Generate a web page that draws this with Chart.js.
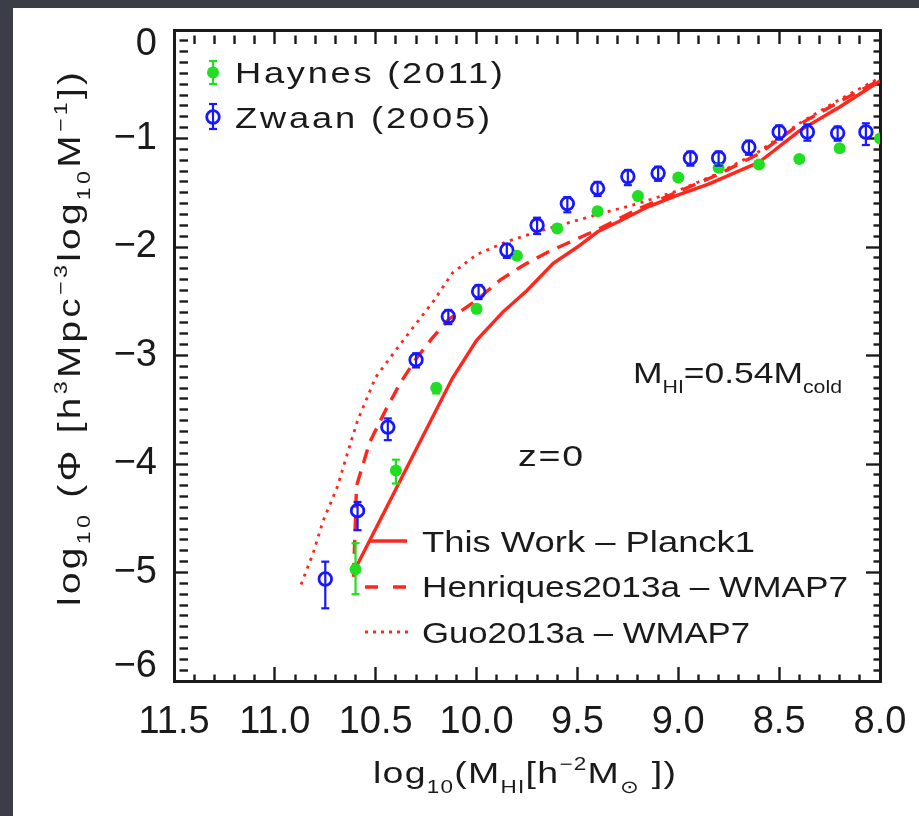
<!DOCTYPE html>
<html>
<head>
<meta charset="utf-8">
<script src="https://cdn.jsdelivr.net/npm/chart.js@4.4.1/dist/chart.umd.min.js"></script>
<style>
html,body{margin:0;padding:0;width:919px;height:816px;overflow:hidden;background:#3b3e47;}
#panel{position:absolute;left:13px;top:8px;width:906px;height:808px;background:#ffffff;}
#c{position:absolute;left:0;top:0;filter:blur(0.4px);}
</style>
</head>
<body>
<div id="panel"></div>
<canvas id="c" width="919" height="816"></canvas>
<script>
// ---------------- data ----------------
const haynesX    = [10.6, 10.4, 10.2, 10.0, 9.8, 9.6, 9.4, 9.2, 9.0, 8.8, 8.6, 8.4, 8.2, 8.0];
const haynesY    = [-4.97, -4.06, -3.30, -2.57, -2.08, -1.83, -1.67, -1.53, -1.36, -1.27, -1.24, -1.19, -1.09, -1.00];
const haynesErrHi = [0.24, 0.10, 0.04, 0.03, 0.03, 0.03, 0.03, 0.03, 0.03, 0.03, 0.03, 0.03, 0.03, 0.03];
const haynesErrLo = [0.23, 0.12, 0.05, 0.04, 0.03, 0.03, 0.03, 0.03, 0.03, 0.03, 0.03, 0.03, 0.03, 0.03];

const zwaanX     = [10.75, 10.59, 10.44, 10.30, 10.14, 9.99, 9.85, 9.70, 9.55, 9.40, 9.25, 9.10, 8.94, 8.80, 8.65, 8.50, 8.36, 8.21, 8.07];
const zwaanY     = [-5.06, -4.43, -3.66, -3.04, -2.64, -2.41, -2.03, -1.80, -1.60, -1.46, -1.35, -1.32, -1.18, -1.18, -1.08, -0.94, -0.94, -0.95, -0.94];
const zwaanErrHi = [0.16, 0.08, 0.08, 0.06, 0.06, 0.06, 0.06, 0.07, 0.06, 0.06, 0.06, 0.06, 0.06, 0.06, 0.06, 0.06, 0.07, 0.06, 0.08];
const zwaanErrLo = [0.27, 0.18, 0.12, 0.07, 0.07, 0.07, 0.07, 0.08, 0.08, 0.07, 0.08, 0.07, 0.07, 0.07, 0.07, 0.07, 0.08, 0.07, 0.12];

const thisWorkX  = [10.6, 10.12, 10.0, 9.87, 9.75, 9.62, 9.5, 9.4, 9.3, 9.15, 9.0, 8.85, 8.75, 8.6, 8.4, 8.2, 8.0];
const thisWorkY  = [-4.96, -3.21, -2.86, -2.60, -2.40, -2.15, -2.00, -1.86, -1.77, -1.63, -1.52, -1.42, -1.34, -1.22, -0.93, -0.71, -0.47];

const henriquesX = [10.61, 10.595, 10.53, 10.45, 10.38, 10.30, 10.22, 10.14, 10.0, 9.88, 9.77, 9.65, 9.52, 9.40, 9.20, 9.00, 8.80, 8.60, 8.40, 8.20, 8.00];
const henriquesY = [-5.04, -4.20, -3.80, -3.50, -3.26, -3.03, -2.84, -2.67, -2.49, -2.30, -2.17, -2.05, -1.94, -1.84, -1.65, -1.49, -1.33, -1.14, -0.87, -0.66, -0.46];

const guoX       = [10.87, 10.81, 10.76, 10.69, 10.64, 10.59, 10.50, 10.40, 10.31, 10.21, 10.12, 10.00, 9.85, 9.70, 9.55, 9.40, 9.20, 9.00, 8.80, 8.60, 8.40, 8.20, 8.00];
const guoY       = [-5.11, -4.82, -4.52, -4.21, -3.90, -3.60, -3.20, -2.95, -2.73, -2.49, -2.24, -2.07, -1.95, -1.86, -1.78, -1.70, -1.60, -1.48, -1.32, -1.12, -0.86, -0.64, -0.44];

const xTickValues = [8.0, 8.5, 9.0, 9.5, 10.0, 10.5, 11.0, 11.5];
const yTickValues = [-6, -5, -4, -3, -2, -1, 0];
const xMinorStep = 0.1, yMinorStep = 0.1;

const legendObs   = ['Haynes (2011)', 'Zwaan (2005)'];
const legendModel = ['This Work – Planck1', 'Henriques2013a – WMAP7', 'Guo2013a – WMAP7'];

// ---------------- style ----------------
const FAM   = '"Liberation Sans", Arial, "DejaVu Sans", sans-serif';
const INK   = '#1a1a1a';
const RED   = 'rgb(255,38,28)';
const GREEN = 'rgb(34,222,34)';
const BLUE  = 'rgb(24,24,255)';

const zip = (xs, ys) => xs.map((x, i) => ({x: x, y: ys[i]}));
const near = (list, v) => list.find(t => Math.abs(t - v) < 1e-6);

function setFont(ctx, size) { ctx.font = size + 'px ' + FAM; }

// draw [text, kind] segments (kind 0 normal, 1 sub, 2 sup); the run is widened
// (horizontal stretch, then letter spacing) so that it spans `target` px
function drawRich(ctx, segs, x0, y0, size, target, maxStretch) {
  const small = size * 0.6;
  maxStretch = maxStretch || 1.25;
  ctx.save();
  ctx.letterSpacing = '0px';
  ctx.textAlign = 'left';
  ctx.textBaseline = 'alphabetic';
  const widths = [];
  let nat = 0, n = 0;
  for (const [t, k] of segs) {
    setFont(ctx, k ? small : size);
    const w = ctx.measureText(t).width;
    widths.push(w); nat += w; n += [...t].length;
  }
  const sx = Math.max(0.8, Math.min(maxStretch, target / nat));
  const rest = target - nat * sx;
  const lsScreen = Math.max(0, rest / Math.max(1, n - 1));
  const ls = lsScreen / sx;
  ctx.translate(x0, y0);
  ctx.scale(sx, 1);
  ctx.letterSpacing = ls.toFixed(2) + 'px';
  let x = 0;
  segs.forEach(([t, k], i) => {
    setFont(ctx, k ? small : size);
    const dy = k === 1 ? size * 0.32 : (k === 2 ? -size * 0.42 : 0);
    ctx.fillText(t, x, dy);
    x += widths[i] + ls * [...t].length;
  });
  ctx.restore();
}

function errBar(ctx, x, yTop, yBot, cap, color, lw) {
  ctx.fillStyle = color;
  ctx.fillRect(x - lw / 2, yTop, lw, yBot - yTop);
  ctx.fillRect(x - cap, yTop - lw / 2, 2 * cap, lw);
  ctx.fillRect(x - cap, yBot - lw / 2, 2 * cap, lw);
}

// error bars through the library's scales
const errorBarPlugin = {
  id: 'errbars',
  afterDatasetsDraw(chart) {
    const ctx = chart.ctx, ys = chart.scales.y, a = chart.chartArea;
    ctx.save();
    ctx.beginPath(); ctx.rect(a.left, a.top, a.right - a.left, a.bottom - a.top); ctx.clip();
    const sets = [
      {idx: 3, vals: haynesY, hi: haynesErrHi, lo: haynesErrLo, color: GREEN},
      {idx: 4, vals: zwaanY, hi: zwaanErrHi, lo: zwaanErrLo, color: BLUE}
    ];
    for (const s of sets) {
      const meta = chart.getDatasetMeta(s.idx);
      meta.data.forEach((pt, i) => {
        const yt = ys.getPixelForValue(s.vals[i] + s.hi[i]);
        const yb = ys.getPixelForValue(s.vals[i] - s.lo[i]);
        errBar(ctx, pt.x, yt, yb, 4, s.color, 2.2);
      });
    }
    ctx.restore();
  }
};

// legends, annotations and axis titles
const textPlugin = {
  id: 'texts',
  afterDraw(chart) {
    const ctx = chart.ctx;
    ctx.save();

    // observational legend (top left)
    errBar(ctx, 213, 61, 84, 4, GREEN, 2.2);
    ctx.fillStyle = GREEN; ctx.beginPath(); ctx.arc(213, 72.5, 6, 0, Math.PI * 2); ctx.fill();
    errBar(ctx, 213, 104, 129, 4, BLUE, 2.2);
    ctx.strokeStyle = BLUE; ctx.lineWidth = 2.8; ctx.beginPath(); ctx.arc(213, 117, 6.3, 0, Math.PI * 2); ctx.stroke();
    ctx.fillStyle = INK;
    drawRich(ctx, [[legendObs[0], 0]], 235, 83, 29, 268);
    drawRich(ctx, [[legendObs[1], 0]], 235, 128, 29, 255);

    // model legend
    ctx.strokeStyle = RED; ctx.lineWidth = 3.6;
    ctx.setLineDash([]); ctx.beginPath(); ctx.moveTo(369, 541); ctx.lineTo(407, 541); ctx.stroke();
    ctx.setLineDash([13, 15]); ctx.beginPath(); ctx.moveTo(365, 587); ctx.lineTo(407, 587); ctx.stroke();
    ctx.lineWidth = 3; ctx.setLineDash([3, 5]); ctx.beginPath(); ctx.moveTo(365, 632); ctx.lineTo(408, 632); ctx.stroke();
    ctx.setLineDash([]);
    ctx.fillStyle = INK;
    drawRich(ctx, [[legendModel[0], 0]], 422, 552, 30, 333);
    drawRich(ctx, [[legendModel[1], 0]], 422, 597, 30, 426);
    drawRich(ctx, [[legendModel[2], 0]], 422, 643, 30, 328);

    // annotations
    drawRich(ctx, [['M', 0], ['HI', 1], ['=0.54M', 0], ['cold', 1]], 633, 383, 30, 209);
    drawRich(ctx, [['z=0', 0]], 518, 466, 30, 65);

    // x axis title
    drawRich(ctx, [['log', 0], ['10', 1], ['(M', 0], ['HI', 1], ['[h', 0], ['−2', 2], ['M', 0], ['⊙', 1], [' ])', 0]], 373, 783, 30, 303);

    // y axis title (rotated)
    ctx.translate(80, 606);
    ctx.rotate(-Math.PI / 2);
    drawRich(ctx, [['log', 0], ['10', 1], [' (Φ [h', 0], ['3', 2], ['Mpc', 0], ['−3', 2], ['log', 0], ['10', 1], ['M', 0], ['−1', 2], ['])', 0]], 0, 0, 31, 534);
    ctx.restore();
  }
};

// ---------------- axes: IDL-style inward major + minor ticks on all four sides ----------------
function stepTicks(s, step) {
  const n = Math.round((s.max - s.min) / step);
  const out = [];
  for (let i = 0; i <= n; i++) out.push({value: +(s.min + i * step).toFixed(6)});
  s.ticks = out;
}
function tickGrid(tl, majors) {
  return {
    display: true, drawOnChartArea: false, drawTicks: true,
    tickLength: tl, tickWidth: 2.4, tickColor: INK,
    tickBorderDash: (c) => (c.tick && !near(majors, c.tick.value)) ? [8.5, 80] : []
  };
}
const frameBorder = {display: true, color: INK, width: 3};
function fixBox(s, w, h) {
  if (w !== null) s.width = w;
  if (h !== null) s.height = h;
  s.paddingTop = 0; s.paddingBottom = 0; s.paddingLeft = 0; s.paddingRight = 0;
}

new Chart(document.getElementById('c'), {
  type: 'scatter',
  data: {
    datasets: [
      {label: legendModel[0], data: zip(thisWorkX, thisWorkY), showLine: true, borderColor: RED, borderWidth: 3.4, pointRadius: 0, tension: 0, order: 3},
      {label: legendModel[1], data: zip(henriquesX, henriquesY), showLine: true, borderColor: RED, borderWidth: 3.4, borderDash: [14, 9], pointRadius: 0, tension: 0, order: 3},
      {label: legendModel[2], data: zip(guoX, guoY), showLine: true, borderColor: RED, borderWidth: 2.8, borderDash: [3, 5.5], pointRadius: 0, tension: 0, order: 3},
      {label: legendObs[0], data: zip(haynesX, haynesY), showLine: false, pointRadius: 6, pointBackgroundColor: GREEN, pointBorderWidth: 0, order: 1},
      {label: legendObs[1], data: zip(zwaanX, zwaanY), showLine: false, pointRadius: 6.3, pointBackgroundColor: 'rgba(0,0,0,0)', pointBorderColor: BLUE, pointBorderWidth: 2.8, order: 0}
    ]
  },
  options: {
    responsive: false,
    animation: false,
    devicePixelRatio: 1,
    layout: {padding: {left: 0, top: 30, right: 39, bottom: 0}},
    plugins: {legend: {display: false}, tooltip: {enabled: false}},
    scales: {
      x: {
        type: 'linear', position: 'bottom', min: 8.0, max: 11.5, reverse: true,
        grid: tickGrid(-14, xTickValues), border: frameBorder,
        afterBuildTicks: (s) => stepTicks(s, xMinorStep),
        afterFit: (s) => fixBox(s, null, 135),
        ticks: {padding: 33, color: INK, font: {family: FAM, size: 38}, maxRotation: 0, minRotation: 0, autoSkip: false,
                callback: (v) => { const t = near(xTickValues, v); return t === undefined ? '' : t.toFixed(1); }}
      },
      x2: {
        type: 'linear', position: 'top', min: 8.0, max: 11.5, reverse: true,
        grid: tickGrid(-14, xTickValues), border: frameBorder,
        afterBuildTicks: (s) => stepTicks(s, xMinorStep),
        afterFit: (s) => fixBox(s, null, 0),
        ticks: {display: false, autoSkip: false}
      },
      y: {
        type: 'linear', position: 'left', min: -6, max: 0,
        grid: tickGrid(-14, yTickValues), border: frameBorder,
        afterBuildTicks: (s) => stepTicks(s, yMinorStep),
        afterFit: (s) => fixBox(s, 174, null),
        ticks: {padding: 31, color: INK, font: {family: FAM, size: 38, lineHeight: 0.75}, autoSkip: false,
                callback: (v) => {
                  const t = near(yTickValues, v);
                  if (t === undefined) return '';
                  const s = t < 0 ? '−' + Math.abs(t) : String(t);
                  if (t === yTickValues[yTickValues.length - 1]) return ['', s];   // IDL keeps end labels inside
                  if (t === yTickValues[0]) return [s, ''];
                  return s;
                }}
      },
      y2: {
        type: 'linear', position: 'right', min: -6, max: 0,
        grid: tickGrid(-14, yTickValues), border: frameBorder,
        afterBuildTicks: (s) => stepTicks(s, yMinorStep),
        afterFit: (s) => fixBox(s, 0, null),
        ticks: {display: false, autoSkip: false}
      }
    }
  },
  plugins: [errorBarPlugin, textPlugin]
});
</script>
</body>
</html>
